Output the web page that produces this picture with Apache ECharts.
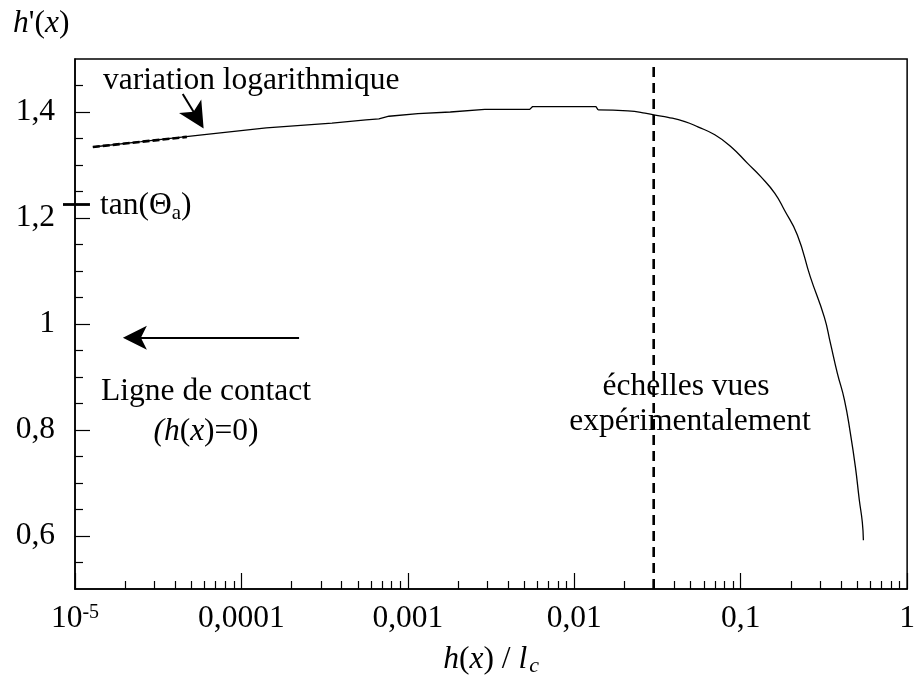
<!DOCTYPE html>
<html><head><meta charset="utf-8">
<script src="https://cdn.jsdelivr.net/npm/echarts@6/dist/echarts.min.js"></script>
<style>html,body{margin:0;padding:0;background:#fff}#c{width:918px;height:687px}</style>
</head><body><div id="c"></div>
<script>
// ---- data ----
// plateau part of h'(x) (small steps)
const flatX = [1.28e-5, 2.5e-5, 5.8e-5, 1.41e-4, 3.5e-4, 5.6e-4, 6.7e-4, 7.7e-4, 1.15e-3, 1.8e-3, 2.9e-3, 5.4e-3, 5.6e-3, 0.0135, 0.0139];
const flatY = [1.334, 1.344, 1.357, 1.370, 1.379, 1.385, 1.387, 1.392, 1.397, 1.400, 1.405, 1.405, 1.410, 1.410, 1.404];
// falling part of h'(x)
const dropX = [0.0139, 0.021, 0.0266, 0.0306, 0.0366, 0.0462, 0.0553, 0.0699, 0.0871, 0.110, 0.132, 0.160, 0.183, 0.219, 0.262, 0.318, 0.346, 0.381, 0.420, 0.456, 0.489, 0.516, 0.538, 0.546];
const dropY = [1.404, 1.402, 1.398, 1.394, 1.390, 1.382, 1.372, 1.357, 1.335, 1.303, 1.278, 1.247, 1.215, 1.168, 1.089, 1.013, 0.964, 0.907, 0.857, 0.794, 0.730, 0.668, 0.626, 0.592];
const logFitX = [1.28e-5, 4.7e-5];
const logFitY = [1.334, 1.353];
const scaleLineX = [0.03, 0.03];
const scaleLineY = [0.5, 1.489];
const tanMarkX = [8.47e-6, 1.23e-5];
const tanMarkY = [1.226, 1.226];
const arrow1X = [4.44e-5, 5.4e-5];
const arrow1Y = [1.434, 1.390];
const arrow2X = [2.22e-4, 2.29e-5];
const arrow2Y = [0.974, 0.974];
const xTickValues = [1e-5, 1e-4, 1e-3, 1e-2, 1e-1, 1];
const xTickLabels = ['{n|10}{sup|-5}', '0,0001', '0,001', '0,01', '0,1', '1'];
const yTickValues = [0.6, 0.8, 1, 1.2, 1.4];
const yTickLabels = ['0,6', '0,8', '1', '1,2', '1,4'];
const yMinorTicks = [0.55, 0.65, 0.7, 0.75, 0.85, 0.9, 0.95, 1.05, 1.1, 1.15, 1.25, 1.3, 1.35, 1.45];
const xMinorTicks = [];
[1e-5, 1e-4, 1e-3, 1e-2, 1e-1].forEach(d => { for (let k = 2; k <= 9; k++) xMinorTicks.push(+(d * k).toPrecision(3)); });

const zip = (a, b) => a.map((v, i) => [v, b[i]]);
const FONT = "'Liberation Serif','Times New Roman',serif";
const FS = 31.5;
const BLACK = '#000';
const ARROW = 'path://M12,0 L24,24 L12,18 L0,24 Z';

const chart = echarts.init(document.getElementById('c'), null, {renderer: 'canvas'});
const option = {
  backgroundColor: '#fff',
  animation: false,
  grid: {left: 75, right: 8, top: 59, bottom: 98, show: true, borderColor: BLACK, borderWidth: 1.5, backgroundColor: 'transparent'},
  xAxis: [{
    type: 'log', logBase: 10, min: 1e-5, max: 1, position: 'bottom',
    name: '{i|h}{n|(}{i|x}{n|) / }{i|l}{sub|c}', nameLocation: 'middle', nameGap: 54,
    nameTextStyle: {fontFamily: FONT, fontSize: FS, color: BLACK,
      rich: {i: {fontFamily: FONT, fontSize: FS, fontStyle: 'italic', color: BLACK},
             n: {fontFamily: FONT, fontSize: FS, color: BLACK},
             sub: {fontFamily: FONT, fontSize: 22, fontStyle: 'italic', color: BLACK, verticalAlign: 'bottom', padding: [12, 0, 0, 2]}}},
    axisLine: {show: true, lineStyle: {color: BLACK, width: 1.5}},
    axisTick: {show: true, inside: true, length: 16, customValues: xTickValues, lineStyle: {color: BLACK, width: 1.2}},
    axisLabel: {show: true, margin: 14, customValues: xTickValues, color: BLACK, fontFamily: FONT, fontSize: FS,
      formatter: v => { const i = xTickValues.findIndex(t => Math.abs(Math.log10(t) - Math.log10(v)) < 1e-6); return i >= 0 ? xTickLabels[i] : ''; },
      rich: {n: {fontFamily: FONT, fontSize: FS, color: BLACK}, sup: {fontFamily: FONT, fontSize: 20, color: BLACK, verticalAlign: 'top', padding: [0, 0, 10, 0]}}},
    splitLine: {show: false}, minorTick: {show: false}
  }, {
    type: 'log', logBase: 10, min: 1e-5, max: 1, position: 'bottom',
    axisLine: {show: false},
    axisTick: {show: true, inside: true, length: 8, customValues: xMinorTicks, lineStyle: {color: BLACK, width: 1.2}},
    axisLabel: {show: false}, splitLine: {show: false}
  }],
  yAxis: [{
    type: 'value', min: 0.5, max: 1.5, position: 'left',
    axisLine: {show: true, lineStyle: {color: BLACK, width: 1.5}},
    axisTick: {show: true, inside: true, length: 15, customValues: yTickValues, lineStyle: {color: BLACK, width: 1.2}},
    axisLabel: {show: true, margin: 20, customValues: yTickValues, color: BLACK, fontFamily: FONT, fontSize: FS,
      formatter: v => { const i = yTickValues.findIndex(t => Math.abs(t - v) < 1e-6); return i >= 0 ? yTickLabels[i] : ''; }},
    splitLine: {show: false}
  }, {
    type: 'value', min: 0.5, max: 1.5, position: 'left',
    axisLine: {show: false},
    axisTick: {show: true, inside: true, length: 8, customValues: yMinorTicks, lineStyle: {color: BLACK, width: 1.2}},
    axisLabel: {show: false}, splitLine: {show: false}
  }],
  series: [
    {type: 'line', data: zip(flatX, flatY), showSymbol: false, symbol: 'none', lineStyle: {color: BLACK, width: 1.3}, z: 3},
    {type: 'line', data: zip(dropX, dropY), showSymbol: false, symbol: 'none', smooth: 0.5, lineStyle: {color: BLACK, width: 1.3}, z: 3},
    {type: 'line', data: zip(logFitX, logFitY), showSymbol: false, symbol: 'none', lineStyle: {color: BLACK, width: 2.6, type: [7, 3]}, z: 4},
    {type: 'line', data: zip(scaleLineX, scaleLineY), showSymbol: false, symbol: 'none', lineStyle: {color: BLACK, width: 2.6, type: [10, 6]}, z: 4},
    {type: 'lines', coordinateSystem: 'cartesian2d', clip: false, symbol: 'none',
      lineStyle: {color: BLACK, width: 2.8, opacity: 1}, data: [{coords: zip(tanMarkX, tanMarkY)}], z: 6},
    {type: 'lines', coordinateSystem: 'cartesian2d', symbol: ['none', ARROW], symbolSize: 26,
      lineStyle: {color: BLACK, width: 2, opacity: 1}, itemStyle: {color: BLACK},
      data: [{coords: zip(arrow1X, arrow1Y)}, {coords: zip(arrow2X, arrow2Y), symbolSize: 24}], z: 5}
  ],
  graphic: [
    {type: 'text', x: 13, y: 24, style: {text: '{i|h}{n|\'(}{i|x}{n|)}', verticalAlign: 'middle', align: 'left',
      rich: {i: {fontFamily: FONT, fontSize: FS, fontStyle: 'italic', fill: BLACK}, n: {fontFamily: FONT, fontSize: FS, fill: BLACK}}}},
    {type: 'text', x: 103, y: 81, style: {text: 'variation logarithmique', font: FS + 'px ' + FONT, fill: BLACK, verticalAlign: 'middle', align: 'left'}},
    {type: 'text', x: 100, y: 206, style: {text: '{n|tan(Θ}{s|a}{n|)}', verticalAlign: 'middle', align: 'left',
      rich: {n: {fontFamily: FONT, fontSize: FS, fill: BLACK}, s: {fontFamily: FONT, fontSize: 21, fill: BLACK, verticalAlign: 'bottom', padding: [14, 0, 0, 0]}}}},
    {type: 'text', x: 206, y: 392, style: {text: 'Ligne de contact', font: FS + 'px ' + FONT, fill: BLACK, verticalAlign: 'middle', align: 'center'}},
    {type: 'text', x: 206, y: 432, style: {text: '{i|(h}{n|(}{i|x}{n|)=0)}', verticalAlign: 'middle', align: 'center',
      rich: {i: {fontFamily: FONT, fontSize: FS, fontStyle: 'italic', fill: BLACK}, n: {fontFamily: FONT, fontSize: FS, fill: BLACK}}}},
    {type: 'text', x: 686, y: 387, style: {text: 'échelles vues', font: FS + 'px ' + FONT, fill: BLACK, verticalAlign: 'middle', align: 'center'}},
    {type: 'text', x: 690, y: 422, style: {text: 'expérimentalement', font: FS + 'px ' + FONT, fill: BLACK, verticalAlign: 'middle', align: 'center'}}
  ]
};
chart.setOption(option);
</script></body></html>
